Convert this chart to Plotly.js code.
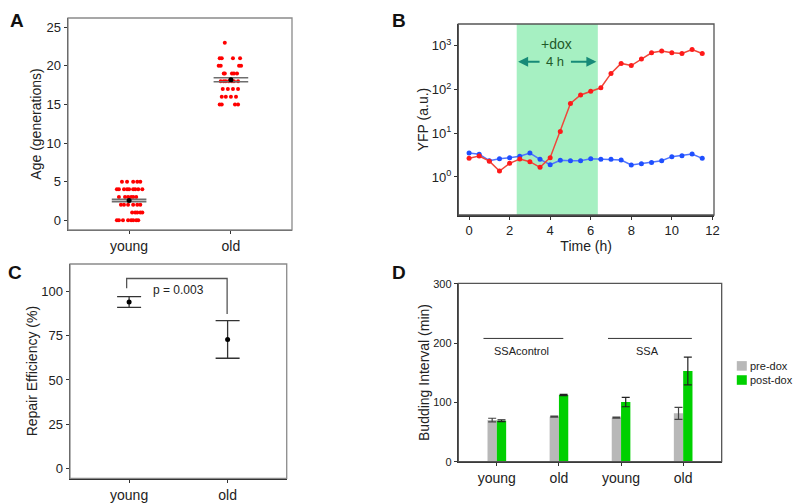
<!DOCTYPE html>
<html>
<head>
<meta charset="utf-8">
<script src="https://cdn.plot.ly/plotly-3.0.1.min.js"></script>
<style>html,body{margin:0;padding:0;background:#fff;}#chart{width:800px;height:504px;}</style>
</head>
<body>
<div id="chart"></div>
<script>
// ---------- Panel A data: age (generations) with horizontal jitter ----------
const groupsA = ['young', 'old'];
const youngAge = [5,5,5,5,5, 4,4,4,4,4,4,4,4,4, 3,3,3,3,3,3, 2,2,2,2,2,2, 1,1,1,1,1, 0,0,0,0,0,0,0,0];
const youngJitter = [-0.07,-0.02,0.04,0.08,0.11, -0.12,-0.10,-0.05,-0.02,0.00,0.04,0.06,0.09,0.13,
  -0.10,-0.04,-0.01,0.02,0.04,0.07, -0.08,-0.05,-0.01,0.04,0.08,0.11, 0.03,0.06,0.08,0.11,0.13,
  -0.12,-0.10,-0.06,-0.01,0.02,0.04,0.07,0.09];
const oldAge = [23, 21,21,21,21, 20,20,20,20, 19,19,19,19,19, 18,18,18,18,18,18,18, 17,17,17,17, 16,16,16,16, 15,15,15,15];
const oldJitter = [-0.06, -0.11,-0.09,0.02,0.09, -0.12,-0.10,0.08,0.10, -0.07,-0.06,0.01,0.03,0.06,
  -0.10,-0.07,-0.05,-0.02,0.01,0.03,0.07, -0.08,-0.03,0.02,0.07, -0.09,-0.05,0.00,0.05, -0.11,-0.09,0.04,0.07];
const ageMean = [2.55, 18.2];
const ageSE = [0.15, 0.26];

// ---------- Panel B data: YFP time course ----------
const timeH = [0,0.5,1,1.5,2,2.5,3,3.5,4,4.5,5,5.5,6,6.5,7,7.5,8,8.5,9,9.5,10,10.5,11,11.5];
const yfpRed = [2.67,3.0,2.3,1.37,2.05,2.58,2.24,1.66,2.77,11.0,48,75,92,110,234,396,355,497,694,760,694,670,827,670];
const yfpBlue = [3.53,3.3,2.36,2.62,2.76,2.97,3.53,2.53,1.91,2.4,2.36,2.36,2.62,2.53,2.53,2.45,1.88,2.02,2.13,2.36,2.92,3.07,3.35,2.67];
const doxStart = 2.35, doxEnd = 6.35;

// ---------- Panel C data: repair efficiency ----------
const groupsC = ['young', 'old'];
const repairMean = [94.2, 73.0];
const repairUpper = [97.2, 83.6];
const repairLower = [91.1, 62.3];
const pText = 'p = 0.003';

// ---------- Panel D data: budding interval ----------
const groupsD = ['young', 'old', 'young', 'old'];
const preDox = [70.3, 76, 74.3, 81.6];
const preDoxErr = [3, 1, 1, 10];
const postDox = [69.2, 112.5, 100.7, 153];
const postDoxErr = [1.5, 1, 8, 23.5];
const strainLabels = ['SSAcontrol', 'SSA'];
const seriesD = ['pre-dox', 'post-dox'];

const FONT = 'Liberation Sans, Arial, Helvetica, sans-serif';
const TXT = '#222';

function xs(base, jit) { return jit.map(j => base + j); }

const traces = [];
// A points
traces.push({x: xs(1, youngJitter), y: youngAge, type: 'scatter', mode: 'markers', xaxis: 'x', yaxis: 'y',
  marker: {color: '#ff0000', size: 4}, showlegend: false, hoverinfo: 'skip'});
traces.push({x: xs(2, oldJitter), y: oldAge, type: 'scatter', mode: 'markers', xaxis: 'x', yaxis: 'y',
  marker: {color: '#ff0000', size: 4}, showlegend: false, hoverinfo: 'skip'});
// A mean +/- SE lines
const seX = [], seY = [];
ageMean.forEach((m, i) => {
  const g = i + 1;
  seX.push(g - 0.17, g + 0.17, null, g - 0.17, g + 0.17, null);
  seY.push(m + ageSE[i], m + ageSE[i], null, m - ageSE[i], m - ageSE[i], null);
});
traces.push({x: seX, y: seY, type: 'scatter', mode: 'lines', xaxis: 'x', yaxis: 'y',
  line: {color: '#6e6e6e', width: 1.7}, showlegend: false, hoverinfo: 'skip'});
traces.push({x: [1, 2], y: ageMean, type: 'scatter', mode: 'markers', xaxis: 'x', yaxis: 'y',
  marker: {color: '#000', size: 5}, showlegend: false, hoverinfo: 'skip'});

// B lines
traces.push({x: timeH, y: yfpBlue, type: 'scatter', mode: 'lines+markers', xaxis: 'x2', yaxis: 'y2',
  line: {color: '#4f74ff', width: 1.5}, marker: {color: '#1f4fff', size: 5}, showlegend: false});
traces.push({x: timeH, y: yfpRed, type: 'scatter', mode: 'lines+markers', xaxis: 'x2', yaxis: 'y2',
  line: {color: '#f0473a', width: 1.5}, marker: {color: '#ff1a1a', size: 5}, showlegend: false});

// C
traces.push({x: [1, 2], y: repairMean, type: 'scatter', mode: 'markers', xaxis: 'x3', yaxis: 'y3',
  marker: {color: '#000', size: 5}, showlegend: false,
  error_y: {type: 'data', symmetric: false,
    array: repairUpper.map((u, i) => u - repairMean[i]),
    arrayminus: repairLower.map((l, i) => repairMean[i] - l),
    color: '#333', thickness: 1.3, width: 12}});
traces.push({x: [0.975, 0.975, 1.995, 1.995], y: [101.9, 107.5, 107.5, 87.4], type: 'scatter', mode: 'lines',
  xaxis: 'x3', yaxis: 'y3', line: {color: '#555', width: 1.3}, showlegend: false, hoverinfo: 'skip'});

// D bars
const posD = groupsD.map((g, i) => i + 1);
traces.push({x: posD, y: preDox, type: 'bar', name: seriesD[0], xaxis: 'x4', yaxis: 'y4',
  width: 0.15, offset: -0.15, marker: {color: '#b8b8b8'}, showlegend: false,
  error_y: {type: 'data', array: preDoxErr, color: '#444', thickness: 1.2, width: 4}});
traces.push({x: posD, y: postDox, type: 'bar', name: seriesD[1], xaxis: 'x4', yaxis: 'y4',
  width: 0.15, offset: 0, marker: {color: '#00d000'}, showlegend: false,
  error_y: {type: 'data', array: postDoxErr, color: '#222', thickness: 1.2, width: 4}});
traces.push({x: [0.785, 2.07, null, 2.79, 4.14], y: [208, 208, null, 208, 208], type: 'scatter', mode: 'lines',
  xaxis: 'x4', yaxis: 'y4', line: {color: '#333', width: 1}, showlegend: false, hoverinfo: 'skip'});

const axBase = {showgrid: false, zeroline: false, showline: true, linecolor: '#333', linewidth: 1.5,
  ticks: 'outside', ticklen: 3, tickcolor: '#333', tickfont: {family: FONT, size: 13, color: TXT}};

function box(xr, yr, color) {
  return {type: 'rect', xref: xr + ' domain', yref: yr + ' domain', x0: 0, x1: 1, y0: 0, y1: 1,
    line: {color: color, width: 1.3}, layer: 'above'};
}

const layout = {
  width: 800, height: 504, autosize: false,
  margin: {l: 0, r: 0, t: 0, b: 0},
  paper_bgcolor: '#fff', plot_bgcolor: '#fff',
  font: {family: FONT, color: TXT},
  showlegend: false,
  xaxis: Object.assign({}, axBase, {domain: [0.085, 0.365], range: [0.4, 2.6], anchor: 'y',
    tickvals: [1, 2], ticktext: groupsA, tickfont: {family: FONT, size: 14, color: TXT}}),
  yaxis: Object.assign({}, axBase, {domain: [0.5437, 0.9643], range: [-1.26, 26.2], anchor: 'x',
    tickvals: [0, 5, 10, 15, 20, 25], title: {text: 'Age (generations)', font: {family: FONT, size: 14, color: TXT}, standoff: 1}}),
  xaxis2: Object.assign({}, axBase, {domain: [0.5729, 0.8925], range: [-0.53, 12.08], anchor: 'y2',
    tickvals: [0, 2, 4, 6, 8, 10, 12], title: {text: 'Time (h)', font: {family: FONT, size: 14, color: TXT}, standoff: 2}}),
  yaxis2: Object.assign({}, axBase, {domain: [0.5734, 0.9524], type: 'log', range: [-0.87, 3.5], anchor: 'x2',
    tickvals: [1, 10, 100, 1000], ticktext: ['10<sup>0</sup>', '10<sup>1</sup>', '10<sup>2</sup>', '10<sup>3</sup>'],
    title: {text: 'YFP (a.u.)', font: {family: FONT, size: 14, color: TXT}, standoff: 0}}),
  xaxis3: Object.assign({}, axBase, {domain: [0.0875, 0.3584], range: [0.4, 2.6], anchor: 'y3',
    tickvals: [1, 2], ticktext: groupsC, tickfont: {family: FONT, size: 14, color: TXT}}),
  yaxis3: Object.assign({}, axBase, {domain: [0.0510, 0.4762], range: [-5.7, 115.7], anchor: 'x3',
    tickvals: [0, 25, 50, 75, 100], title: {text: 'Repair Efficiency (%)', font: {family: FONT, size: 14, color: TXT}, standoff: 0}}),
  xaxis4: Object.assign({}, axBase, {domain: [0.5729, 0.9021], range: [0.38, 4.62], anchor: 'y4',
    tickvals: posD, ticktext: groupsD, tickfont: {family: FONT, size: 14, color: TXT}}),
  yaxis4: Object.assign({}, axBase, {domain: [0.0839, 0.4379], range: [0, 301], anchor: 'x4',
    tickvals: [0, 100, 200, 300], tickfont: {family: FONT, size: 11, color: TXT},
    title: {text: 'Budding Interval (min)', font: {family: FONT, size: 14, color: TXT}, standoff: 0}}),
  shapes: [
    box('x', 'y', '#8a8a8a'),
    box('x2', 'y2', '#555'),
    box('x3', 'y3', '#8a8a8a'),
    box('x4', 'y4', '#555'),
    {type: 'rect', xref: 'x2', yref: 'y2 domain', x0: doxStart, x1: doxEnd, y0: 0, y1: 1,
      fillcolor: '#a6f0c2', line: {width: 0}, layer: 'below'},
    // manual legend swatches
    {type: 'rect', xref: 'paper', yref: 'paper', x0: 0.921, x1: 0.9335, y0: 0.2645, y1: 0.2835,
      fillcolor: '#b8b8b8', line: {width: 0}},
    {type: 'rect', xref: 'paper', yref: 'paper', x0: 0.921, x1: 0.9335, y0: 0.2365, y1: 0.2555,
      fillcolor: '#00d000', line: {width: 0}}
  ],
  annotations: [
    {text: '<b>A</b>', xref: 'paper', yref: 'paper', x: 0.010, y: 0.985, xanchor: 'left', yanchor: 'top', showarrow: false, font: {family: FONT, size: 19, color: '#111'}},
    {text: '<b>B</b>', xref: 'paper', yref: 'paper', x: 0.487, y: 0.985, xanchor: 'left', yanchor: 'top', showarrow: false, font: {family: FONT, size: 19, color: '#111'}},
    {text: '<b>C</b>', xref: 'paper', yref: 'paper', x: 0.008, y: 0.485, xanchor: 'left', yanchor: 'top', showarrow: false, font: {family: FONT, size: 19, color: '#111'}},
    {text: '<b>D</b>', xref: 'paper', yref: 'paper', x: 0.487, y: 0.485, xanchor: 'left', yanchor: 'top', showarrow: false, font: {family: FONT, size: 19, color: '#111'}},
    {text: '+dox', xref: 'x2', yref: 'y2', x: 4.3, y: 3.05, showarrow: false, font: {family: FONT, size: 14, color: '#1f5a2a'}},
    {text: '4 h', xref: 'x2', yref: 'y2', x: 4.25, y: 2.635, showarrow: false, font: {family: FONT, size: 13, color: '#1f5a2a'}},
    {text: '', xref: 'x2', yref: 'y2', x: 2.42, y: 2.635, axref: 'x2', ayref: 'y2', ax: 3.55, ay: 2.635,
      showarrow: true, arrowhead: 2, arrowsize: 1, arrowwidth: 2, arrowcolor: '#178a78'},
    {text: '', xref: 'x2', yref: 'y2', x: 6.28, y: 2.635, axref: 'x2', ayref: 'y2', ax: 4.95, ay: 2.635,
      showarrow: true, arrowhead: 2, arrowsize: 1, arrowwidth: 2, arrowcolor: '#178a78'},
    {text: pText, xref: 'x3', yref: 'y3', x: 1.5, y: 101, showarrow: false, font: {family: FONT, size: 12, color: TXT}},
    {text: strainLabels[0], xref: 'x4', yref: 'y4', x: 1.40, y: 187, showarrow: false, font: {family: FONT, size: 11, color: TXT}},
    {text: strainLabels[1], xref: 'x4', yref: 'y4', x: 3.42, y: 187, showarrow: false, font: {family: FONT, size: 11, color: TXT}},
    {text: seriesD.join('<br>'), xref: 'paper', yref: 'paper', x: 0.935, y: 0.260, xanchor: 'left', yanchor: 'middle', align: 'left',
      showarrow: false, font: {family: FONT, size: 11, color: TXT}}
  ]
};

Plotly.newPlot('chart', traces, layout, {displayModeBar: false, staticPlot: true});
</script>
</body>
</html>
